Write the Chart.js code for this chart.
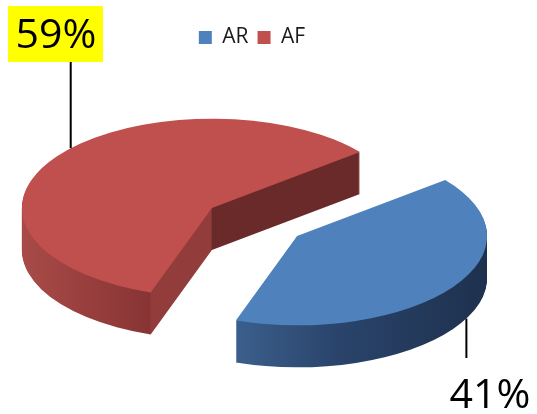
<!DOCTYPE html>
<html>
<head>
<meta charset="utf-8">
<script src="https://cdn.jsdelivr.net/npm/chart.js@4.4.1/dist/chart.umd.min.js"></script>
<style>
  html, body { margin: 0; padding: 0; background: #fff; }
</style>
</head>
<body>
<canvas id="pieChart" width="537" height="414"></canvas>
<script>
const labels = ['AR', 'AF'];
const values = [41, 59];
const percentLabels = ['41%', '59%'];
const topColors = ['#4f81bd', '#c0504d'];

// fake 3d: squash the pie, pull slices apart, stack darker copies under it
const tilt = 0.47;
const depth = 42;
const explode = 52;
const pieRadius = 190;
const pieCenter = { x: 254.5, y: 222 };
const leaderAngles = [27, 222]; // degrees, where the label lines touch each slice

const rad = d => d * Math.PI / 180;

function sliceOffset(arc) {
  const mid = (arc.startAngle + arc.endAngle) / 2;
  return { x: Math.cos(mid) * explode, y: Math.sin(mid) * explode };
}

function place(ctx, arc, dy) {
  const o = sliceOffset(arc);
  ctx.translate(pieCenter.x, pieCenter.y + dy);
  ctx.scale(1, tilt);
  ctx.translate(o.x, o.y);
  ctx.translate(-arc.x, -arc.y);
}

// horizontal gradient for the side walls, built in screen x then moved to arc space
function sideFill(ctx, arc, i) {
  const o = sliceOffset(arc);
  const ex = pieCenter.x + o.x;
  const R = arc.outerRadius;
  const toUser = sx => sx - ex + arc.x;
  let g;
  if (i === 0) {
    const x0 = ex + R * Math.cos(arc.endAngle);
    const x1 = ex + R;
    g = ctx.createLinearGradient(toUser(x0), 0, toUser(x1), 0);
    g.addColorStop(0, '#3b5f8c');
    g.addColorStop(0.4, '#2a446b');
    g.addColorStop(1, '#1e314e');
  } else {
    const x0 = ex - R;
    const x1 = ex + R * Math.cos(arc.endAngle);
    const fx = ex + R * Math.cos(arc.startAngle);
    const t = sx => Math.min(1, Math.max(0, (sx - x0) / (x1 - x0)));
    g = ctx.createLinearGradient(toUser(x0), 0, toUser(x1), 0);
    g.addColorStop(0, '#a84b48');
    g.addColorStop(t(fx) - 0.002, '#883434');
    g.addColorStop(t(fx), '#923d3b');
    g.addColorStop(t(ex) - 0.002, '#923d3b');
    g.addColorStop(t(ex), '#6b2a2a');
    g.addColorStop(1, '#6b2a2a');
  }
  return g;
}

function drawArcWith(ctx, arc, fill, dy) {
  const saved = arc.options;
  arc.options = Object.assign({}, saved, { backgroundColor: fill, offset: 0 });
  ctx.save();
  place(ctx, arc, dy);
  arc.draw(ctx);
  ctx.restore();
  arc.options = saved;
}

function edgePoint(arc, deg, dy) {
  const o = sliceOffset(arc);
  const R = arc.outerRadius;
  return {
    x: pieCenter.x + o.x + R * Math.cos(rad(deg)),
    y: pieCenter.y + (o.y + R * Math.sin(rad(deg))) * tilt + dy
  };
}

const pie3d = {
  id: 'pie3d',
  beforeDatasetsDraw(chart) {
    const ctx = chart.ctx;
    const arcs = chart.getDatasetMeta(0).data;
    const fills = arcs.map((arc, i) => sideFill(ctx, arc, i));
    for (let d = depth; d >= 1; d--) {
      arcs.forEach((arc, i) => drawArcWith(ctx, arc, fills[i], d));
    }
    arcs.forEach((arc, i) => drawArcWith(ctx, arc, topColors[i], 0));
    return false;
  },
  afterDraw(chart) {
    const ctx = chart.ctx;
    const arcs = chart.getDatasetMeta(0).data;
    ctx.save();
    ctx.font = '41px "Open Sans"';
    ctx.textAlign = 'center';
    ctx.textBaseline = 'alphabetic';
    ctx.strokeStyle = '#000';
    ctx.lineWidth = 2;

    // AF label, top left, on yellow
    const pr = edgePoint(arcs[1], leaderAngles[1], 0);
    ctx.fillStyle = '#ffff00';
    ctx.fillRect(8, 6, 95, 56);
    ctx.beginPath();
    ctx.moveTo(pr.x, 62);
    ctx.lineTo(pr.x, pr.y);
    ctx.stroke();
    ctx.fillStyle = '#000';
    ctx.fillText(percentLabels[1], 56, 48);

    // AR label, bottom right
    const pb = edgePoint(arcs[0], leaderAngles[0], depth);
    ctx.beginPath();
    ctx.moveTo(pb.x, pb.y);
    ctx.lineTo(pb.x, 358);
    ctx.stroke();
    ctx.fillText(percentLabels[0], 490, 408);
    ctx.restore();
  }
};

new Chart(document.getElementById('pieChart'), {
  type: 'pie',
  data: {
    labels: labels,
    datasets: [{
      data: values,
      backgroundColor: topColors,
      borderWidth: 0,
      clip: false
    }]
  },
  options: {
    responsive: false,
    animation: false,
    events: [],
    radius: pieRadius,
    rotation: 51.2,
    layout: { padding: { top: 18, right: 33 } },
    plugins: {
      tooltip: { enabled: false },
      legend: {
        position: 'top',
        labels: {
          boxWidth: 13,
          boxHeight: 13,
          padding: 9,
          color: '#1a1a1a',
          font: { family: 'Open Sans', size: 21 }
        }
      }
    }
  },
  plugins: [pie3d]
});
</script>
</body>
</html>
